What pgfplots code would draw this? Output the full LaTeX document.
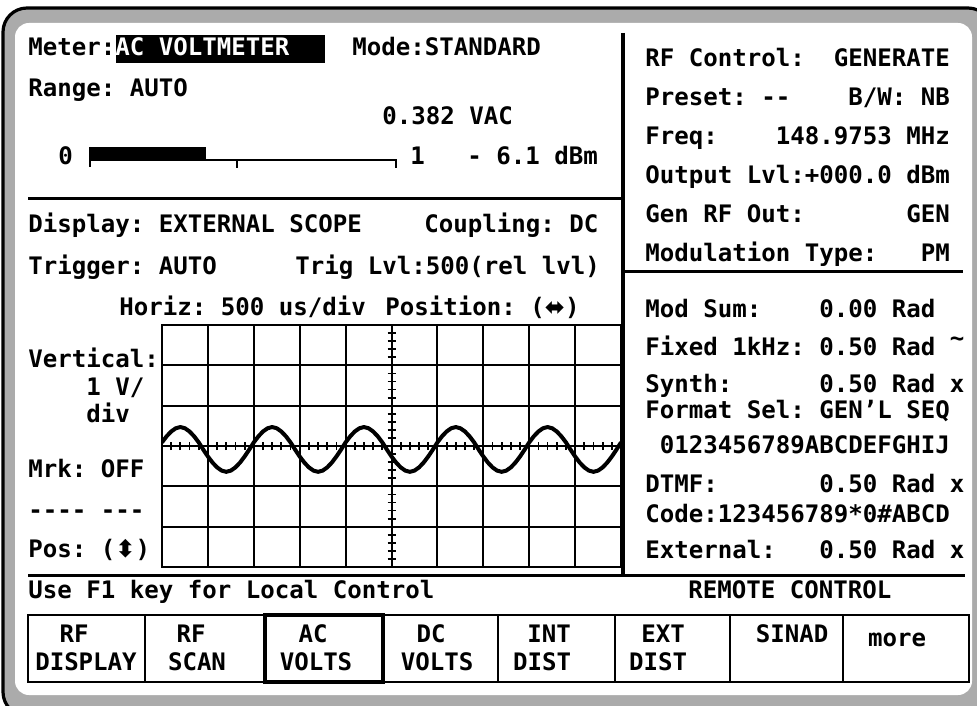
\documentclass[border=0pt]{standalone}
\usepackage{fontspec}
\usepackage{pgfplots}
\pgfplotsset{compat=1.18}
\newfontfamily\mono{DejaVu Sans Mono}
\newfontfamily\symf{DejaVu Sans}
\newcommand\F{\mono\bfseries\fontsize{12.04}{14}\selectfont\frenchspacing}
\newcommand\T[3]{\node[anchor=base west,inner sep=0pt,font=\F] at (#1,#2) {#3};}
\newcommand\C[3]{\node[anchor=base,inner sep=0pt,font=\F] at (#1,#2) {#3};}
\begin{document}
\begin{tikzpicture}
\begin{scope}[x=0.5pt,y=-0.5pt]
\fill[white] (0,0) rectangle (977,705);
\filldraw[fill=black!33, draw=black, line width=1.6pt, rounded corners=12pt] (3,8) rectangle (992,716);
\fill[white, rounded corners=7pt] (15,23) rectangle (972,695);
% panel lines
\draw[line width=1.5pt] (28,199) -- (623,199);
\draw[line width=1.8pt] (623,33) -- (623,575);
\draw[line width=1.5pt] (623,271) -- (963,271);
\draw[line width=1.5pt] (28,575) -- (965,575);
% meter
\fill[black] (116,35) rectangle (325,63);
\T{28}{56}{Meter:}
\T{115}{56}{\textcolor{white}{AC~VOLTMETER}}
\T{352}{56}{Mode:STANDARD}
\T{28}{97}{Range:~AUTO}
\T{382}{125}{0.382~VAC}
\T{58}{165}{0}
\fill[black] (90,147) rectangle (206,160);
\draw[line width=1pt] (90,147) -- (90,167);
\draw[line width=1pt] (90,160) -- (396,160) -- (396,168);
\draw[line width=1pt] (237,160) -- (237,168);
\T{410}{165}{1}
\T{467}{165}{-~6.1~dBm}
% scope texts
\T{28}{233}{Display:~EXTERNAL~SCOPE}
\T{424}{233}{Coupling:~DC}
\T{28}{274}{Trigger:~AUTO}
\T{295}{274}{Trig~Lvl:500(rel~lvl)}
\T{119}{315}{Horiz:~500~us/div}
\T{385}{315}{Position:~({\symf ⬌})}
\T{28}{367}{Vertical:}
\T{86}{395}{1~V/}
\T{86}{422}{div}
\T{28}{477}{Mrk:~OFF}
\T{28}{518}{-{}-{}-{}-~-{}-{}-}
\T{28}{557}{Pos:~({\symf ⬍})}
% right panel
\T{645}{67}{RF~Control:~~GENERATE}
\T{645}{106}{Preset:~-{}-~~~~B/W:~NB}
\T{645}{145}{Freq:~~~~148.9753~MHz}
\T{645}{184}{Output~Lvl:+000.0~dBm}
\T{645}{223}{Gen~RF~Out:~~~~~~~GEN}
\T{645}{262}{Modulation~Type:~~~PM}
\T{645}{317}{Mod~Sum:~~~~0.00~Rad}
\T{645}{355}{Fixed~1kHz:~0.50~Rad~\raisebox{0.35em}{\textasciitilde}}
\T{645}{392}{Synth:~~~~~~0.50~Rad~x}
\T{645}{418}{Format~Sel:~GEN’L~SEQ}
\T{645}{453}{~0123456789ABCDEFGHIJ}
\T{645}{492}{DTMF:~~~~~~~0.50~Rad~x}
\T{645}{522}{Code:123456789*0\#ABCD}
\T{645}{558}{External:~~~0.50~Rad~x}
% bottom
\T{28}{598}{Use~F1~key~for~Local~Control}
\T{688}{598}{REMOTE~CONTROL}
\foreach \a/\b in {28/145,145/265,383/498,498/615,615/730,730/843,843/969}
  \draw[line width=1pt] (\a,615) rectangle (\b,682);
\draw[line width=2.2pt] (265,615) rectangle (383,682);
\C{74}{642}{RF}\C{86}{670}{DISPLAY}
\C{191}{642}{RF}\C{197}{670}{SCAN}
\C{313}{642}{AC}\C{316}{670}{VOLTS}
\C{431}{642}{DC}\C{437}{670}{VOLTS}
\C{549}{642}{INT}\C{542}{670}{DIST}
\C{663}{642}{EXT}\C{658}{670}{DIST}
\C{792}{642}{SINAD}
\C{897}{646}{more}
\end{scope}
% scope graticule and trace
\begin{axis}[at={(81pt,-283.5pt)}, anchor=south west, scale only axis,
  width=229.5pt, height=121pt,
  xmin=-5, xmax=5, ymin=-3, ymax=3,
  xtick={-5,...,5}, ytick={-3,...,3},
  xticklabels={}, yticklabels={},
  tick style={draw=none},
  grid=major, grid style={black, line width=1pt},
  axis line style={line width=1pt}]
\addplot[black, line width=2pt, line join=round, mark=none] coordinates {
(-5.0,0.09)(-4.9,0.24)(-4.8,0.36)(-4.7,0.44)(-4.6,0.47)(-4.5,0.44)(-4.4,0.36)(-4.3,0.24)(-4.2,0.09)(-4.1,-0.09)
(-4.0,-0.26)(-3.9,-0.41)(-3.8,-0.53)(-3.7,-0.61)(-3.6,-0.64)(-3.5,-0.61)(-3.4,-0.53)(-3.3,-0.41)(-3.2,-0.26)(-3.1,-0.09)
(-3.0,0.09)(-2.9,0.24)(-2.8,0.36)(-2.7,0.44)(-2.6,0.47)(-2.5,0.44)(-2.4,0.36)(-2.3,0.24)(-2.2,0.09)(-2.1,-0.09)
(-2.0,-0.26)(-1.9,-0.41)(-1.8,-0.53)(-1.7,-0.61)(-1.6,-0.64)(-1.5,-0.61)(-1.4,-0.53)(-1.3,-0.41)(-1.2,-0.26)(-1.1,-0.09)
(-1.0,0.09)(-0.9,0.24)(-0.8,0.36)(-0.7,0.44)(-0.6,0.47)(-0.5,0.44)(-0.4,0.36)(-0.3,0.24)(-0.2,0.09)(-0.1,-0.09)
(0.0,-0.26)(0.1,-0.41)(0.2,-0.53)(0.3,-0.61)(0.4,-0.64)(0.5,-0.61)(0.6,-0.53)(0.7,-0.41)(0.8,-0.26)(0.9,-0.09)
(1.0,0.09)(1.1,0.24)(1.2,0.36)(1.3,0.44)(1.4,0.47)(1.5,0.44)(1.6,0.36)(1.7,0.24)(1.8,0.09)(1.9,-0.09)
(2.0,-0.26)(2.1,-0.41)(2.2,-0.53)(2.3,-0.61)(2.4,-0.64)(2.5,-0.61)(2.6,-0.53)(2.7,-0.41)(2.8,-0.26)(2.9,-0.09)
(3.0,0.09)(3.1,0.24)(3.2,0.36)(3.3,0.44)(3.4,0.47)(3.5,0.44)(3.6,0.36)(3.7,0.24)(3.8,0.09)(3.9,-0.09)
(4.0,-0.26)(4.1,-0.41)(4.2,-0.53)(4.3,-0.61)(4.4,-0.64)(4.5,-0.61)(4.6,-0.53)(4.7,-0.41)(4.8,-0.26)(4.9,-0.09)
(5.0,0.09)};
\end{axis}
\begin{axis}[at={(81pt,-283.5pt)}, anchor=south west, scale only axis,
  width=229.5pt, height=121pt,
  xmin=-5, xmax=5, ymin=-3, ymax=3,
  axis lines=center, axis line style={-, line width=1pt},
  xtick={-5,...,5}, ytick={-3,...,3},
  minor x tick num=4, minor y tick num=4,
  xticklabels={}, yticklabels={},
  tick align=center, major tick length=4pt, minor tick length=4pt,
  tick style={black, line width=0.9pt}]
\addplot[draw=none] coordinates {(0,0)};
\end{axis}
\pgfresetboundingbox
\path (0pt,0pt) rectangle (488.5pt,-352.5pt);
\end{tikzpicture}
\end{document}
